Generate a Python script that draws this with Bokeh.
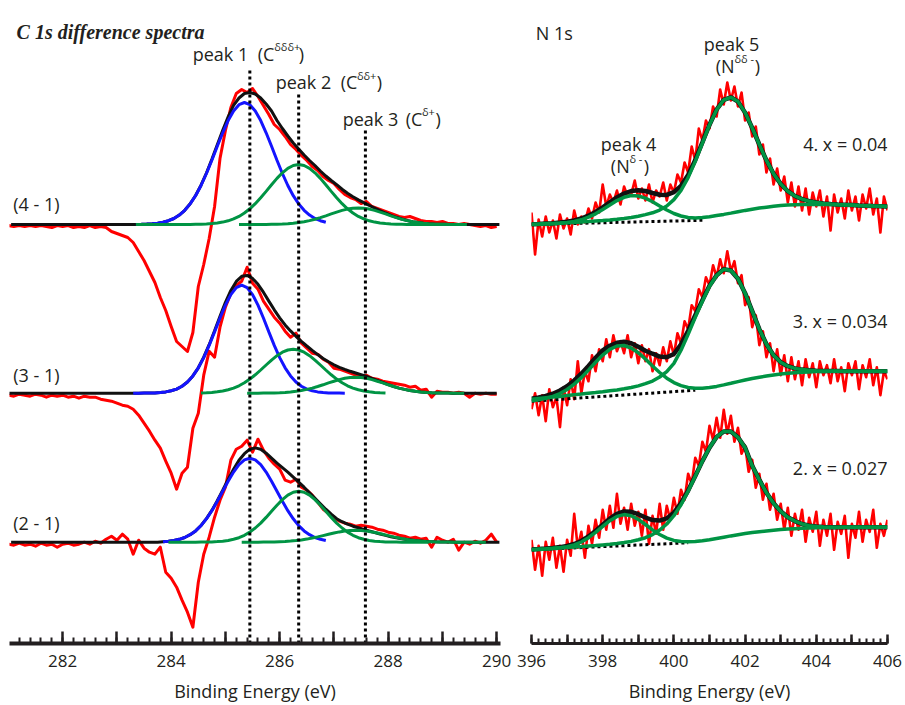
import numpy as np
from bokeh.plotting import figure
from bokeh.layouts import row
from bokeh.models import Range1d, FixedTicker, CustomJSTickFormatter, Label
from bokeh.embed import file_html
from bokeh.resources import INLINE

TEXT = "#231f20"
RED = "#ff0000"
BLUE = "#1414ff"
GREEN = "#009444"
BLACK = "#111111"
FONT = "Open Sans"

# ------------------------------------------------------------------
# C 1s difference spectra  (red data on 0.1 eV grid starting 281.0)
# ------------------------------------------------------------------
c_red_start = 281.0
c_red_41 = [-1, -2, -1, -2, -1, -2, -1, -2, -3, -1,
            -2, -1, -3, -2, -3, -1, -3, -2, -3, -7,
            -9, -11, -13, -18, -27, -36, -47, -58, -73, -86,
            -102, -117, -122, -127, -108, -62, -40, -14, 18, 66,
            94, 117, 131, 135, 132, 136, 128, 119, 110, 100,
            95, 88, 80, 75, 69, 64, 58, 54, 48, 44,
            41, 35, 30, 27, 25, 21, 23, 18, 16, 14,
            12, 10, 8, 7, 8, 6, 4, 3, 3, 2,
            3, 1, 1, 0, 1, 0, -1, -2, -1, -3,
            -2]
c_red_31 = [-2, -3, -1, -2, -3, -1, -2, -4, -2, -3,
            -2, -4, -3, -5, -3, -4, -4, -6, -7, -8,
            -10, -12, -13, -16, -22, -30, -38, -47, -55, -68,
            -80, -96, -80, -74, -35, -20, 18, 42, 36, 66,
            86, 100, 108, 112, 126, 110, 104, 92, 84, 76,
            70, 62, 56, 60, 50, 45, 40, 39, 34, 31,
            25, 24, 22, 20, 18, 17, 18, 15, 14, 12,
            11, 10, 9, 8, 6, 7, 3, 4, -4, 2,
            1, 1, 0, 1, 0, -4, 0, -1, 0, -1,
            -1]
c_red_21 = [-2, -3, -1, -3, -2, -4, -1, -3, -2, -5,
            -2, -1, -3, -2, 0, -2, 1, -1, 3, 6,
            2, 8, 3, -12, 2, -6, -10, -12, -5, -30,
            -36, -45, -58, -70, -85, -40, -12, 5, 25, 42,
            55, 82, 93, 96, 102, 90, 103, 92, 84, 78,
            73, 62, 60, 63, 55, 52, 47, 40, 33, 29,
            25, 21, 19, 18, 16, 17, 16, 15, 13, 12,
            10, 9, 7, 6, 4, 5, 3, 4, -5, 5,
            2, 0, 3, -8, 0, -2, 1, -1, 2, 8,
            0]

# fitted components (0.1 eV steps from the given start energies)
c_blue_41_start = 283.35
c_blue_41 = [0.1, 0.2, 0.4, 0.7, 1.3, 2.2, 3.8, 6.0, 9.4, 14.2,
             20.6, 28.8, 39.0, 51.0, 64.3, 78.2, 91.7, 103.9, 113.6, 119.8,
             122.0, 119.8, 113.6, 103.9, 91.7, 78.2, 64.3, 51.0, 39.0, 28.8,
             20.6, 14.2, 9.4, 6.0, 3.8, 2.2]
c_green2_41_start = 283.35
c_green2_41 = [0, 0, 0, 0, 0, 0, 0, 0, 0, 0,
               0.1, 0.2, 0.3, 0.5, 0.9, 1.5, 2.4, 3.7, 5.6, 8.1,
               11.5, 15.7, 20.8, 26.7, 33.1, 39.7, 46.1, 51.7, 56.2, 59.0,
               60.0,
               59.0, 56.2, 51.7, 46.1, 39.7, 33.1, 26.7, 20.8, 15.7, 11.5,
               8.1, 5.6, 3.7, 2.4, 1.5, 0.9, 0.5, 0.3, 0.2, 0.1,
               0, 0, 0, 0, 0, 0, 0, 0, 0, 0]
c_green3_41_start = 285.25
c_green3_41 = [0, 0, 0, 0, 0, 0.1, 0.2, 0.3, 0.5, 0.8,
               1.3, 1.9, 2.8, 3.9, 5.3, 6.9, 8.7, 10.6, 12.4, 14.1,
               15.4, 16.2, 16.5, 16.2, 15.4, 14.1, 12.4, 10.6, 8.7, 6.9,
               5.3, 3.9, 2.8, 1.9, 1.3, 0.8, 0.5, 0.3, 0.2, 0.1,
               0, 0, 0]
c_black_41_start = 281.05
c_black_41 = [0, 0, 0, 0, 0, 0, 0, 0, 0, 0,
              0, 0, 0, 0, 0, 0, 0, 0, 0, 0,
              0, 0, 0, 0.1, 0.2, 0.4, 0.7, 1.3, 2.2,
              3.8, 6.0, 9.4, 14.2, 20.7, 29.0, 39.3, 51.5, 65.2, 79.7,
              94.1, 107.6, 119.2, 126.5, 131.0, 132.0, 130.5, 126.5, 120.5, 113.5,
              104.0, 96.0, 88.5, 81.5, 75.5, 69.5, 64.0, 59.0, 53.5, 48.5,
              44.0, 39.8, 35.3, 31.3, 27.8, 24.6, 21.8, 19.1, 16.5, 13.9,
              11.5, 9.2, 7.2, 5.5, 4.0, 2.8, 1.9, 1.3, 0.8, 0.5,
              0.3, 0.2, 0.1,
              0, 0, 0, 0, 0, 0, 0, 0, 0]

c_blue_31_start = 283.3
c_blue_31 = [0, 0, 0.1, 0.2, 0.3, 0.7, 1.3, 2.4, 4.1, 7.0,
             11.2, 17.3, 25.4, 35.6, 47.8, 61.3, 75.2, 88.1, 98.6, 105.6,
             108.0, 105.6, 98.6, 88.1, 75.2, 61.3, 47.8, 35.6, 25.4, 17.3,
             11.2, 7.0, 4.1, 2.4, 1.3, 0.7, 0.3, 0.2, 0.1, 0]
c_green2_31_start = 284.55
c_green2_31 = [0.3, 0.5, 0.8, 1.4, 2.2, 3.4, 5.1, 7.4, 10.4, 14.1,
               18.4, 23.2, 28.2, 33.1, 37.5, 41.0, 43.2, 44.0, 43.2, 41.0,
               37.5, 33.1, 28.2, 23.2, 18.4, 14.1, 10.4, 7.4, 5.1, 3.4,
               2.2, 1.4, 0.8, 0.5, 0.3]
c_green3_31_start = 285.4
c_green3_31 = [0, 0, 0, 0.1, 0.2, 0.3, 0.5, 0.8, 1.2, 1.9,
               2.7, 3.8, 5.1, 6.7, 8.4, 10.3, 12.0, 13.6, 14.9, 15.7,
               16.0, 15.7, 14.9, 13.6, 12.0, 10.3, 8.4, 6.7, 5.1, 3.8,
               2.7, 1.9, 1.2, 0.8, 0.5, 0.3, 0.2, 0.1, 0, 0, 0]
c_black_31_start = 281.0
c_black_31 = [0, 0, 0, 0, 0, 0, 0, 0, 0, 0,
              0, 0, 0, 0, 0, 0, 0, 0, 0, 0,
              0, 0, 0,
              0, 0, 0.1, 0.2, 0.3, 0.7, 1.3, 2.4, 4.1, 7.0,
              11.2, 17.3, 25.4, 36.0, 48.5, 62.4, 77.0, 90.9, 102.8, 111.8,
              116.9, 117.8, 114.8, 108.9, 101.0, 92.1, 83.4, 75.4, 68.3, 62.3,
              56.9, 51.8, 47.2, 42.8, 38.6, 34.8, 31.4, 28.4, 25.9, 23.8,
              21.9, 20.2, 18.5, 16.7, 14.7, 12.7, 10.7, 8.6, 6.7, 5.1,
              3.8, 2.7, 1.9, 1.2, 0.8, 0.5, 0.3, 0.2, 0.1,
              0, 0, 0, 0, 0, 0, 0, 0, 0]

c_blue_21_start = 283.85
c_blue_21 = [0.5, 0.9, 1.7, 2.9, 4.7, 7.5, 11.3, 16.6, 23.4, 31.5,
             40.9, 51.0, 61.0, 70.1, 77.5, 82.3, 84.0, 82.3, 77.5, 70.1,
             61.0, 51.0, 40.9, 31.5, 23.4, 16.6, 11.3, 7.5, 4.7, 2.9, 1.7]
c_green2_21_start = 283.95
c_green2_21 = [0, 0, 0, 0, 0, 0, 0.1, 0.2, 0.3, 0.6,
               1.0, 1.7, 2.9, 4.5, 6.9, 10.1, 14.2, 19.1, 24.8, 31.0,
               37.0, 42.6, 47.1, 50.0, 51.0, 50.0, 47.1, 42.6, 37.0, 31.0,
               24.8, 19.1, 14.2, 10.1, 6.9, 4.5, 2.9, 1.7, 1.0, 0.6,
               0.3, 0.2, 0.1, 0, 0, 0, 0, 0, 0]
c_green3_21_start = 285.3
c_green3_21 = [0, 0, 0, 0, 0.1, 0.2, 0.3, 0.5, 0.7, 1.1,
               1.6, 2.3, 3.1, 4.2, 5.3, 6.6, 7.9, 9.2, 10.3, 11.2,
               11.8, 12.0, 11.8, 11.2, 10.3, 9.2, 7.9, 6.6, 5.3, 4.2,
               3.1, 2.3, 1.6, 1.1, 0.7, 0.5, 0.3, 0.2, 0.1,
               0, 0, 0, 0, 0, 0, 0]
c_black_21_start = 281.05
c_black_21 = [0, 0, 0, 0, 0, 0, 0, 0, 0, 0,
              0, 0, 0, 0, 0, 0, 0, 0, 0, 0,
              0, 0, 0, 0, 0, 0, 0, 0,
              0.5, 0.9, 1.7, 2.9, 4.7, 7.5, 11.3, 16.7, 23.6, 31.8,
              41.5, 52.0, 62.7, 73.0, 82.0, 88.5, 93.0, 94.3, 93.0, 89.0,
              84.0, 79.0, 74.5, 70.0, 65.0, 60.0, 55.0, 49.5, 44.0, 38.5,
              33.0, 28.0, 23.5, 20.5, 18.0, 16.0, 14.5, 12.8, 11.2, 9.7,
              8.2, 6.8, 5.5, 4.4, 3.4, 2.6, 2.0, 1.4, 0.9, 0.6,
              0.4, 0.3, 0.2, 0.1,
              0, 0, 0, 0, 0, 0, 0, 0, 0]

c_peak_energy = [285.45, 286.35, 287.58]
c_labels = ["(4 - 1)", "(3 - 1)", "(2 - 1)"]

# ------------------------------------------------------------------
# N 1s spectra (red data on 0.1 eV grid from 396.0; fits on 0.2 eV grid)
# ------------------------------------------------------------------
n_red_start = 396.0
n_red_4 = [12, -30, 5, -12, 8, -8, 4, -14, 10, -4,
           6, -10, 14, 0, 8, 2, 16, 6, 22, 12,
           40, 18, 30, 22, 34, 20, 38, 28, 30, 44,
           26, 36, 24, 40, 22, 34, 28, 42, 24, 40,
           32, 50, 42, 62, 52, 78, 64, 96, 84, 104,
           96, 118, 108, 135, 120, 142, 124, 138, 118, 132,
           104, 112, 88, 98, 70, 80, 52, 66, 40, 56,
           34, 48, 22, 42, 18, 38, 14, 36, 10, 32,
           18, 34, 8, 28, -6, 30, 12, 26, 6, 34,
           14, 28, 4, 30, 16, 36, 10, 26, -8, 28,
           14]
n_red_3 = [-8, 8, -14, 6, -20, 12, -6, 4, -26, 14,
           -4, 22, 2, 40, 8, 30, 20, 46, 30, 52,
           40, 62, 44, 66, 50, 60, 48, 66, 44, 58,
           38, 56, 40, 52, 30, 48, 36, 54, 40, 60,
           46, 68, 58, 80, 72, 96, 90, 112, 104, 124,
           116, 136, 124, 142, 128, 150, 130, 140, 118, 126,
           96, 104, 74, 86, 56, 70, 44, 58, 30, 52,
           26, 46, 20, 44, 22, 40, 16, 42, 24, 38,
           14, 40, 26, 36, 18, 42, 20, 34, 10, 38,
           26, 40, 12, 36, 24, 42, 16, 34, 6, 30,
           22]
n_red_2 = [10, -20, 4, -26, 8, -10, 12, -18, 4, -22,
           10, -6, 36, 2, 18, -8, 24, 6, 30, 12,
           40, 20, 44, 22, 56, 26, 42, 20, 46, 24,
           38, 14, 40, 6, 34, 16, 46, 20, 44, 30,
           52, 36, 60, 50, 76, 66, 92, 84, 108, 98,
           124, 110, 132, 112, 140, 116, 134, 108, 122, 96,
           104, 78, 90, 62, 76, 50, 66, 40, 56, 30,
           46, 20, 42, 14, 36, 20, 40, 8, 32, 18,
           38, 4, 30, 14, 36, 0, 28, 16, 34, -8,
           26, 12, 38, 8, 30, 18, 40, 2, 26, 14,
           30]

n_fit_start = 396.0
n_comp4_4 = [0.0, 0.2, 0.5, 0.7, 1.2, 1.9, 3.0, 4.7, 7.3, 10.7,
             15.0, 19.5, 23.9, 27.2, 29.0, 28.5, 26.4, 22.8, 18.6, 14.5,
             11.0, 8.5, 7.0, 6.6, 6.9, 7.7, 8.9, 10.1, 11.4, 12.8,
             14.1, 15.3, 16.4, 17.3, 18.2, 18.9, 19.4, 19.8, 20.0, 20.1,
             20.1, 20.0, 19.9, 19.7, 19.5, 19.3, 19.0, 18.8, 18.5, 18.3,
             18.0]
n_comp5_4 = [0.3, 0.6, 0.9, 1.1, 1.4, 1.8, 2.1, 2.5, 2.9, 3.5,
             4.0, 4.6, 5.3, 6.1, 7.0, 8.3, 9.9, 11.7, 14.4, 18.5,
             24.9, 34.1, 46.9, 63.1, 81.4, 99.5, 114.8, 124.5, 127.2, 122.9,
             111.9, 96.5, 80.0, 64.1, 50.8, 40.6, 33.3, 28.5, 25.4, 23.3,
             22.0, 21.1, 20.5, 20.0, 19.7, 19.4, 19.0, 18.8, 18.5, 18.3,
             18.0]
n_total_4 = [0.3, 0.6, 1.0, 1.3, 1.9, 2.8, 4.0, 6.0, 8.8, 12.6,
             17.2, 22.2, 27.1, 31.0, 33.5, 34.2, 33.5, 31.5, 29.8, 29.6,
             32.3, 38.7, 49.5, 64.5, 82.1, 99.8, 115.0, 124.6, 127.2, 122.9,
             111.9, 96.5, 80.0, 64.1, 50.8, 40.6, 33.3, 28.5, 25.4, 23.3,
             22.0, 21.1, 20.5, 20.0, 19.7, 19.4, 19.0, 18.8, 18.5, 18.3,
             18.0]
n_comp4_3 = [0.5, 1.5, 2.8, 4.8, 7.7, 11.7, 17.1, 23.6, 31.1, 38.9,
             46.1, 51.9, 55.2, 55.7, 53.2, 48.4, 42.2, 35.2, 28.7, 23.0,
             18.6, 15.6, 13.7, 12.9, 13.0, 13.7, 14.8, 16.3, 17.9, 19.6,
             21.2, 22.7, 24.0, 25.2, 26.3, 27.2, 27.9, 28.5, 28.9, 29.3,
             29.6, 29.8, 29.9, 30.0, 30.0, 30.0, 30.0, 30.0, 30.0, 30.0,
             30.0]
n_comp5_3 = [2.0, 2.7, 3.4, 4.1, 4.8, 5.6, 6.4, 7.1, 7.9, 8.6,
             9.4, 10.4, 11.3, 12.4, 13.7, 15.3, 17.5, 20.1, 24.2, 29.6,
             37.8, 51.0, 67.0, 84.0, 100.0, 115.0, 125.7, 132.0, 130.7, 122.5,
             108.0, 90.0, 72.0, 57.0, 46.0, 39.0, 35.0, 32.8, 31.6, 30.9,
             30.5, 30.3, 30.2, 30.1, 30.0, 30.0, 30.0, 30.0, 30.0, 30.0,
             30.0]
n_total_3 = [2.5, 3.7, 5.3, 7.5, 10.7, 15.0, 20.7, 27.5, 35.3, 43.4,
             50.9, 55.5, 58.5, 59.5, 58.0, 54.5, 50.5, 47.5, 44.6, 43.9,
             47.2, 56.9, 70.4, 85.9, 101.0, 115.5, 125.9, 132.1, 130.7, 122.5,
             108.0, 90.0, 72.0, 57.0, 46.0, 39.0, 35.0, 32.8, 31.6, 30.9,
             30.5, 30.3, 30.2, 30.1, 30.0, 30.0, 30.0, 30.0, 30.0, 30.0,
             30.0]
n_comp4_2 = [0.0, 0.3, 0.7, 1.3, 2.0, 3.1, 4.9, 7.8, 12.1, 17.4,
             23.4, 29.1, 33.4, 35.2, 34.1, 30.4, 25.3, 19.9, 15.3, 11.7,
             9.4, 8.3, 8.0, 8.3, 9.0, 10.0, 11.3, 12.6, 13.9, 15.1,
             16.2, 17.2, 18.1, 18.9, 19.6, 20.2, 20.7, 21.1, 21.5, 21.8,
             22.0, 22.2, 22.3, 22.4, 22.5, 22.6, 22.6, 22.6, 22.6, 22.6,
             22.6]
n_comp5_2 = [0.3, 0.7, 1.1, 1.6, 2.0, 2.4, 2.8, 3.2, 3.8, 4.3,
             4.9, 5.5, 6.3, 7.3, 8.4, 10.0, 12.1, 15.2, 19.7, 25.8,
             34.1, 45.1, 58.5, 73.5, 88.6, 102.1, 112.8, 118.4, 118.3, 112.5,
             102.2, 84.0, 70.0, 57.0, 46.5, 38.5, 32.5, 28.7, 25.8, 24.1,
             23.2, 22.8, 22.6, 22.5, 22.5, 22.6, 22.6, 22.6, 22.6, 22.6,
             22.6]
n_total_2 = [0.3, 0.7, 1.2, 1.9, 2.7, 3.9, 5.8, 8.8, 13.3, 18.8,
             25.1, 31.1, 35.9, 38.3, 38.0, 35.6, 32.3, 29.7, 29.2, 31.4,
             37.1, 46.6, 59.2, 73.8, 88.7, 102.1, 112.8, 118.4, 118.3, 112.5,
             102.2, 84.0, 70.0, 57.0, 46.5, 38.5, 32.5, 28.7, 25.8, 24.1,
             23.2, 22.8, 22.6, 22.5, 22.5, 22.6, 22.6, 22.6, 22.6, 22.6,
             22.6]
# linear (dotted) baselines: energies and values
n_base_4_x = [396.0, 400.8]
n_base_4_y = [0.0, 4.2]
n_base_3_x = [396.0, 400.6]
n_base_3_y = [0.0, 11.0]
n_base_2_x = [396.0, 400.4]
n_base_2_y = [0.0, 7.0]
n_labels = ["4. x = 0.04", "3. x = 0.034", "2. x = 0.027"]

# vertical stacking offsets (plot units)
C_OFFSETS = [419.0, 250.3, 101.3]
N_OFFSETS = [419.0, 242.3, 93.7]


def grid(start, n, step=0.1):
    return np.round(start + step * np.arange(n), 3)


def shifted(vals, off):
    return np.asarray(vals, dtype=float) + off


def label(p, x, y, text, size="18px", align="left", font=FONT, style="normal"):
    p.add_layout(Label(x=x, y=y, text=text, text_font=font, text_font_size=size,
                       text_align=align, text_baseline="alphabetic",
                       text_color=TEXT, text_font_style=style))


def style_axis(p, ticks, minor, tick_in, minor_in, line_w):
    ax = p.xaxis[0]
    ax.ticker = FixedTicker(ticks=ticks, minor_ticks=minor)
    ax.formatter = CustomJSTickFormatter(
        code="return (Math.round(tick) % 2 === 0) ? tick.toFixed(0) : '';")
    ax.axis_label = "Binding Energy (eV)"
    ax.axis_label_text_font = FONT
    ax.axis_label_text_font_size = "18px"
    ax.axis_label_text_font_style = "normal"
    ax.axis_label_text_color = TEXT
    ax.major_label_text_font = FONT
    ax.major_label_text_font_size = "17px"
    ax.major_label_text_color = TEXT
    ax.axis_line_width = line_w
    ax.axis_line_color = TEXT
    ax.major_tick_in = tick_in
    ax.major_tick_out = 0
    ax.major_tick_line_width = 2.5
    ax.major_tick_line_color = TEXT
    ax.minor_tick_in = minor_in
    ax.minor_tick_out = 0
    ax.minor_tick_line_width = 2
    ax.minor_tick_line_color = TEXT
    ax.major_label_standoff = 11
    ax.axis_label_standoff = 9


# ---------------------------- left panel ----------------------------
p1 = figure(width=515, height=705, x_range=Range1d(281.02, 290.07), y_range=Range1d(0, 643),
            output_backend="svg", toolbar_location=None, y_axis_location=None,
            min_border_left=9, min_border_right=15, min_border_top=0, min_border_bottom=62,
            background_fill_color="white", border_fill_color="white", outline_line_color=None)
p1.grid.visible = False
style_axis(p1, list(range(281, 291)), list(np.round(np.arange(281.0, 290.01, 0.2), 1)), 12, 6, 4)

c_sets = [
    (c_red_41, c_black_41_start, c_black_41, c_blue_41_start, c_blue_41,
     c_green2_41_start, c_green2_41, c_green3_41_start, c_green3_41),
    (c_red_31, c_black_31_start, c_black_31, c_blue_31_start, c_blue_31,
     c_green2_31_start, c_green2_31, c_green3_31_start, c_green3_31),
    (c_red_21, c_black_21_start, c_black_21, c_blue_21_start, c_blue_21,
     c_green2_21_start, c_green2_21, c_green3_21_start, c_green3_21),
]
for (red, bks, bk, bls, bl, g2s, g2, g3s, g3), off in zip(c_sets, C_OFFSETS):
    p1.line(grid(c_red_start, len(red)), shifted(red, off), line_color=RED, line_width=3,
            line_join="round")
    p1.line(grid(bks, len(bk)), shifted(bk, off), line_color=BLACK, line_width=3)
    p1.line(grid(bls, len(bl)), shifted(bl, off), line_color=BLUE, line_width=3)
    p1.line(grid(g2s, len(g2)), shifted(g2, off), line_color=GREEN, line_width=3)
    p1.line(grid(g3s, len(g3)), shifted(g3, off), line_color=GREEN, line_width=3)

# vertical dotted peak markers
p1.segment(x0=c_peak_energy, y0=[0, 0, 0], x1=c_peak_energy, y1=[575, 549, 516],
           line_color="black", line_width=3, line_dash="3 3")

label(p1, 281.15, 611.5, "C 1s difference spectra", size="20px",
      font="Liberation Serif", style="bold italic")
# peak labels with superscripts
label(p1, 284.396, 589.7, "peak 1")
label(p1, 285.594, 589.7, "(C")
label(p1, 285.899, 596.7, "\u03b4\u03b4\u03b4+", size="11px")
label(p1, 286.35, 589.7, ")")
label(p1, 285.926, 561.3, "peak 2")
label(p1, 287.124, 561.3, "(C")
label(p1, 287.423, 568.3, "\u03b4\u03b4+", size="11px")
label(p1, 287.788, 561.3, ")")
label(p1, 287.161, 524.7, "peak 3")
label(p1, 288.323, 524.7, "(C")
label(p1, 288.622, 531.7, "\u03b4+", size="11px")
label(p1, 288.871, 524.7, ")")
for txt, yy in zip(c_labels, [439.5, 269.0, 120.3]):
    label(p1, 281.09, yy, txt)

# ---------------------------- right panel ----------------------------
p2 = figure(width=390, height=705, x_range=Range1d(396.0, 406.0), y_range=Range1d(0, 643),
            output_backend="svg", toolbar_location=None, y_axis_location=None,
            min_border_left=16, min_border_right=18, min_border_top=0, min_border_bottom=62,
            background_fill_color="white", border_fill_color="white", outline_line_color=None)
p2.grid.visible = False
style_axis(p2, list(range(396, 407)), list(np.round(np.arange(396.0, 406.01, 0.2), 1)), 9, 5, 3)

n_sets = [
    (n_red_4, n_base_4_x, n_base_4_y, n_total_4, n_comp4_4, n_comp5_4),
    (n_red_3, n_base_3_x, n_base_3_y, n_total_3, n_comp4_3, n_comp5_3),
    (n_red_2, n_base_2_x, n_base_2_y, n_total_2, n_comp4_2, n_comp5_2),
]
for (red, bx, by, tot, c4, c5), off in zip(n_sets, N_OFFSETS):
    p2.line(grid(n_red_start, len(red)), shifted(red, off), line_color=RED, line_width=2.6,
            line_join="round")
    p2.line(bx, shifted(by, off), line_color="black", line_width=3, line_dash="3 3")
    p2.line(grid(n_fit_start, len(tot), 0.2), shifted(tot, off), line_color=BLACK,
            line_width=4.5)
    p2.line(grid(n_fit_start, len(c4), 0.2), shifted(c4, off), line_color=GREEN, line_width=3.5)
    p2.line(grid(n_fit_start, len(c5), 0.2), shifted(c5, off), line_color=GREEN, line_width=3.5)

label(p2, 396.12, 611.0, "N 1s")
label(p2, 400.84, 599.7, "peak 5")
label(p2, 401.177, 578.0, "(N")
label(p2, 401.70, 585.0, "\u03b4\u03b4 -", size="11px")
label(p2, 402.27, 578.0, ")")
label(p2, 397.947, 500.0, "peak 4")
label(p2, 398.228, 478.0, "(N")
label(p2, 398.75, 485.0, "\u03b4 -", size="11px")
label(p2, 399.15, 478.0, ")")
for txt, yy in zip(n_labels, [499.5, 322.3, 176.0]):
    label(p2, 406.0, yy, txt, align="right")

layout = row(p1, p2)
open("out.html", "w").write(file_html(layout, INLINE))
